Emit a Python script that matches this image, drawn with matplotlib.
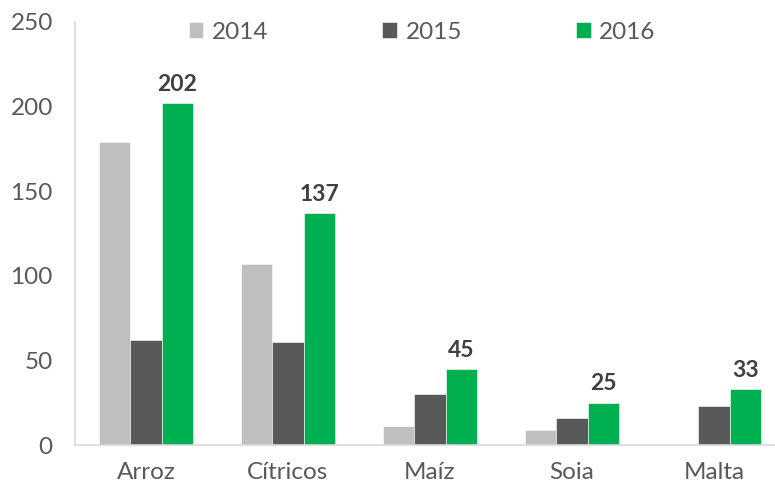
import numpy as np
import matplotlib
matplotlib.use("Agg")
import matplotlib.pyplot as plt

plt.rcParams["font.family"] = ["Lato", "DejaVu Sans"]

categories = ["Arroz", "Cítricos", "Maíz", "Soia", "Malta"]
years = ["2014", "2015", "2016"]
values_2014 = [179, 107, 11, 9, 0]
values_2015 = [62, 61, 30, 16, 23]
values_2016 = [202, 137, 45, 25, 33]
labels_2016 = ["202", "137", "45", "25", "33"]

colors = ["#bfbfbf", "#595959", "#00b050"]


def main():
    fig = plt.figure(figsize=(7.75, 4.87), dpi=100)
    ax = fig.add_axes([75 / 775, 42 / 487, 710 / 775, 423 / 487])

    x = np.arange(len(categories))
    width = 0.222
    series = [values_2014, values_2015, values_2016]
    for i, (vals, year, col) in enumerate(zip(series, years, colors)):
        ax.bar(x + (i - 1) * width, vals, width, color=col, label=year,
               edgecolor="white", linewidth=0.4)

    # data labels on 2016 only
    for xi, v, lab in zip(x, values_2016, labels_2016):
        ax.annotate(lab, (xi + width, v), xytext=(0, 6), textcoords="offset points",
                    ha="center", va="bottom", fontsize=16.5, fontweight="bold",
                    color="#404040")

    ax.set_xlim(-0.5, 4.5)
    ax.set_ylim(0, 250)
    ax.set_yticks(range(0, 251, 50))
    ax.set_xticks(x)
    ax.set_xticklabels(categories)

    for s in ["top", "right"]:
        ax.spines[s].set_visible(False)
    for s in ["left", "bottom"]:
        ax.spines[s].set_color("#d9d9d9")
        ax.spines[s].set_linewidth(1.2)

    ax.tick_params(axis="y", length=0, pad=16, labelsize=17.5, labelcolor="#595959")
    ax.tick_params(axis="x", length=0, pad=12, labelsize=17.5, labelcolor="#595959")

    leg = ax.legend(loc="center", bbox_to_anchor=(0.489, 0.976), ncol=3,
                    frameon=False, fontsize=17.5, handlelength=0.6,
                    handleheight=0.6, handletextpad=0.35, columnspacing=4.7)
    for t in leg.get_texts():
        t.set_color("#595959")

    fig.savefig("out.png", dpi=100)
    plt.close(fig)


if __name__ == "__main__":
    main()
